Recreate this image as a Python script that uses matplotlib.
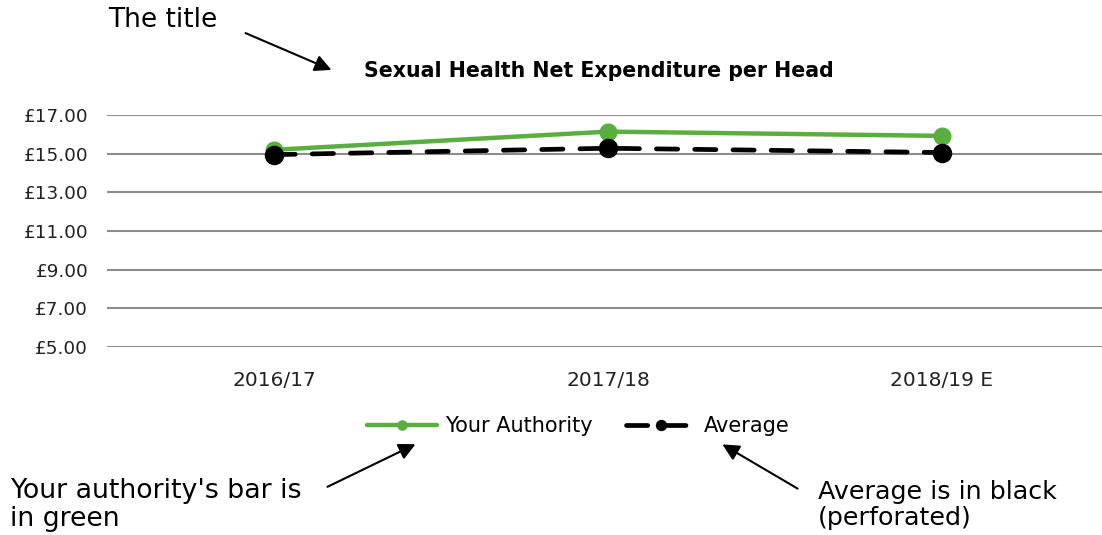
import matplotlib
matplotlib.use("Agg")
import matplotlib.pyplot as plt

categories = ["2016/17", "2017/18", "2018/19 E"]
your_authority = [15.20, 16.14, 15.92]
average = [14.95, 15.28, 15.06]
yticks = [5, 7, 9, 11, 13, 15, 17]
ytick_labels = ["£5.00", "£7.00", "£9.00", "£11.00", "£13.00", "£15.00", "£17.00"]

W, H = 1102, 535
fig = plt.figure(figsize=(W / 100, H / 100), dpi=100)
plt.rcParams['font.family'] = ['DejaVu Sans']

def px(x0, y0, x1, y1):
    return [x0 / W, 1 - y1 / H, (x1 - x0) / W, (y1 - y0) / H]

ax = fig.add_axes(px(107, 115, 1102, 347))
x = list(range(len(categories)))
green = "#5aae3f"
ax.plot(x, your_authority, color=green, lw=3.2, marker="o", ms=12,
        solid_capstyle="round", label="Your Authority", zorder=3)
ax.plot(x, average, color="black", lw=3.4, marker="o", ms=13,
        dashes=(4.5, 3.6), dash_capstyle="round", label="Average", zorder=4)
ax.set_xlim(-0.5, 2.5 - 7 / 334)
ax.set_ylim(5, 17)
ax.set_yticks(yticks)
ax.set_yticklabels(ytick_labels, fontsize=13.3, color="#222222")
ax.set_xticks(x)
ax.set_xticklabels(categories, fontsize=14.5, color="#222222")
ax.tick_params(length=0)
ax.tick_params(axis="y", pad=13.5)
ax.tick_params(axis="x", pad=17)
ax.grid(axis="y", color="#8c8c8c", lw=1.5)
ax.set_axisbelow(True)
for s in ax.spines.values():
    s.set_visible(False)

fig.text(599 / W, 1 - 71 / H, "Sexual Health Net Expenditure per Head",
         ha="center", va="center", fontsize=14.8, fontweight="bold")

leg = fig.legend(loc="center", bbox_to_anchor=(578 / W, 1 - 426 / H), ncol=2,
                 frameon=False, fontsize=15, handlelength=3.4,
                 columnspacing=1.6, handletextpad=0.35, markerscale=0.55)

fig.text(108 / W, 1 - 20 / H, "The title", ha="left", va="center", fontsize=19)
fig.text(10 / W, 1 - 505 / H, "Your authority's bar is\nin green", ha="left",
         va="center", fontsize=19.3, linespacing=1.05)
fig.text(818 / W, 1 - 505 / H, "Average is in black\n(perforated)", ha="left",
         va="center", fontsize=18.3, linespacing=1.1)

def arrow(x0, y0, x1, y1):
    fig.add_artist(matplotlib.patches.FancyArrowPatch(
        (x0 / W, 1 - y0 / H), (x1 / W, 1 - y1 / H), transform=fig.transFigure,
        arrowstyle="-|>,head_length=10,head_width=5", color="black", lw=1.5,
        mutation_scale=1))

arrow(243, 32, 334, 71)
arrow(325, 488, 418, 443)
arrow(800, 490, 720, 443)

fig.savefig("out.png", dpi=100)
